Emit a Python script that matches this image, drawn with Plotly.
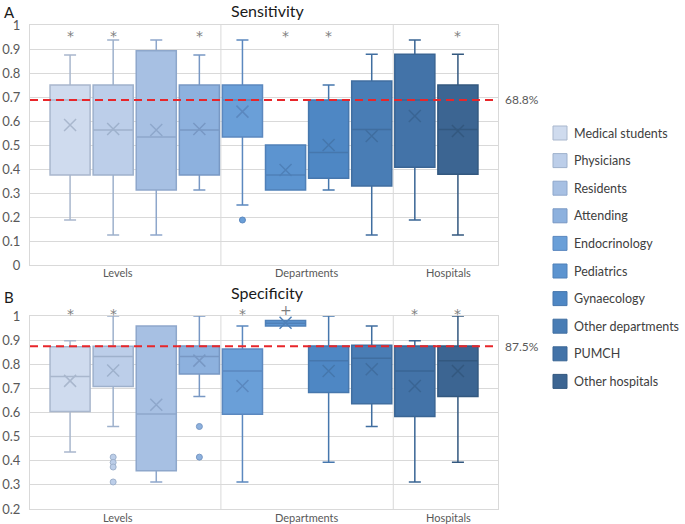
import plotly.graph_objects as go

groups = ["Medical students", "Physicians", "Residents", "Attending", "Endocrinology",
          "Pediatrics", "Gynaecology", "Other departments", "PUMCH", "Other hospitals"]
positions = [0, 1, 2, 3, 4, 5, 6, 7, 8, 9]
fills = ["#cfdbee", "#bccee9", "#a7c0e3", "#8db1de", "#6a9fd8",
         "#5c94d0", "#4e87c4", "#497db5", "#4373a8", "#3c6592"]
lines = ["#a9b7cd", "#9eb1cc", "#8ea7cb", "#7898c4", "#5b88bf",
         "#4f80b8", "#4677ad", "#406ea0", "#3a6594", "#33587f"]

# Sensitivity (A)
sens_lo = [0.1875, 0.125, 0.125, 0.3125, 0.25, 0.3125, 0.3125, 0.125, 0.1875, 0.125]
sens_q1 = [0.375, 0.375, 0.3125, 0.375, 0.533, 0.3125, 0.361, 0.329, 0.407, 0.378]
sens_med = [0.6875, 0.5625, 0.533, 0.5625, 0.6875, 0.375, 0.469, 0.565, 0.6875, 0.565]
sens_q3 = [0.75, 0.75, 0.893, 0.75, 0.75, 0.5, 0.6875, 0.767, 0.878, 0.75]
sens_hi = [0.875, 0.9375, 0.9375, 0.875, 0.9375, 0.5, 0.75, 0.878, 0.9375, 0.878]
sens_mean = [0.583, 0.567, 0.5625, 0.567, 0.639, 0.396, 0.5, 0.5375, 0.621, 0.558]
sens_out_x = [4]
sens_out_y = [0.1875]
sens_marks = ["*", "*", "", "*", "", "*", "*", "", "", "*"]
sens_mark_y = 0.955
sens_range = [0, 1]
sens_ref = 0.688
sens_ref_label = "68.8%"

# Specificity (B)
spec_lo = [0.436, 0.542, 0.312, 0.666, 0.312, 0.959, 0.394, 0.542, 0.312, 0.394]
spec_q1 = [0.604, 0.708, 0.359, 0.76, 0.593, 0.959, 0.683, 0.636, 0.583, 0.666]
spec_med = [0.749, 0.832, 0.594, 0.832, 0.772, 0.97, 0.814, 0.825, 0.772, 0.814]
spec_q3 = [0.873, 0.875, 0.959, 0.876, 0.863, 0.981, 0.876, 0.879, 0.876, 0.876]
spec_hi = [0.897, 1.0, 0.959, 1.0, 0.959, 0.981, 1.0, 0.959, 0.897, 1.0]
spec_mean = [0.731, 0.774, 0.632, 0.815, 0.71, 0.972, 0.772, 0.779, 0.71, 0.772]
spec_out_x = [1, 1, 1, 1, 3, 3]
spec_out_y = [0.415, 0.393, 0.374, 0.312, 0.542, 0.415]
spec_marks = ["*", "*", "", "", "*", "+", "", "", "*", "*"]
spec_mark_y = 1.01
spec_range = [0.2, 1]
spec_ref = 0.875
spec_ref_label = "87.5%"

categories = ["Levels", "Departments", "Hospitals"]
category_x = [1.11, 5.5, 8.77]
separators = [3.5, 7.5]

W, H = 685, 524
ML, MR, MT, MB = 30, 187, 25, 15
PW, PH = W - ML - MR, H - MT - MB
FONT = "Lato, 'Open Sans', sans-serif"
GRAY = "#595959"
GRID = "#d9d9d9"
XR = [-0.93, 9.93]


def px(x):
    return (x - ML) / PW


def py(y):
    return (H - MB - y) / PH


fig = go.Figure()
shapes = []
annotations = []

panels = [
    ("x", "y", sens_lo, sens_q1, sens_med, sens_q3, sens_hi, sens_mean,
     sens_out_x, sens_out_y, sens_marks, sens_mark_y, sens_range, sens_ref, sens_ref_label, 272),
    ("x2", "y2", spec_lo, spec_q1, spec_med, spec_q3, spec_hi, spec_mean,
     spec_out_x, spec_out_y, spec_marks, spec_mark_y, spec_range, spec_ref, spec_ref_label, 517),
]

for (xa, ya, lo, q1, med, q3, hi, mean, ox, oy, marks, my, yr, ref, reflab, caty) in panels:
    for i, g in enumerate(groups):
        fig.add_trace(go.Box(
            x=[positions[i]], lowerfence=[lo[i]], q1=[q1[i]], median=[med[i]],
            q3=[q3[i]], upperfence=[hi[i]], width=0.93, whiskerwidth=0.3,
            fillcolor=fills[i], line=dict(color=lines[i], width=1.5),
            boxpoints=False, name=g, showlegend=False, xaxis=xa, yaxis=ya,
            hoverinfo="skip"))
    fig.add_trace(go.Scatter(
        x=positions, y=mean, mode="markers", xaxis=xa, yaxis=ya, showlegend=False,
        marker=dict(symbol="x-thin", size=12,
                    line=dict(color=[lines[i] for i in range(10)], width=1.5)),
        hoverinfo="skip"))
    if ox:
        fig.add_trace(go.Scatter(
            x=ox, y=oy, mode="markers", xaxis=xa, yaxis=ya, showlegend=False,
            marker=dict(symbol="circle", size=6, color=[fills[k] for k in ox],
                        line=dict(color=[lines[k] for k in ox], width=1)),
            hoverinfo="skip"))
    yd = ya + " domain"
    mark_dom = (my - yr[0]) / (yr[1] - yr[0])
    for i in range(10):
        if marks[i]:
            annotations.append(dict(xref=xa, yref=yd, x=positions[i], y=mark_dom,
                                    text=marks[i], showarrow=False, xanchor="center",
                                    yanchor="middle", yshift=4 if marks[i] == "+" else 0,
                                    font=dict(family="DejaVu Sans", size=14,
                                              color="#7f7f7f")))
    xref = xa
    for s in separators:
        shapes.append(dict(type="line", xref=xref, yref=yd, x0=s, x1=s, y0=0, y1=1,
                           line=dict(color=GRID, width=1), layer="below"))
    shapes.append(dict(type="line", xref=xref, yref=ya, x0=XR[0], x1=XR[1], y0=ref, y1=ref,
                       line=dict(color="#e8262a", width=2, dash="8px,5px")))
    annotations.append(dict(xref=xref, yref=ya, x=XR[1], y=ref, text=reflab,
                            showarrow=False, xanchor="left", xshift=5,
                            font=dict(family=FONT, size=12, color=GRAY)))
    for c, cx in zip(categories, category_x):
        annotations.append(dict(xref=xref, yref="paper", x=cx, y=py(caty), text=c,
                                showarrow=False, yanchor="middle",
                                font=dict(family=FONT, size=11, color=GRAY)))

# titles and panel letters
for txt, x, y, sz in [("Sensitivity", 267, 10, 16), ("Specificity", 267, 293, 16),
                      ("A", 9, 12, 15), ("B", 9, 297, 15)]:
    annotations.append(dict(xref="paper", yref="paper", x=px(x), y=py(y), text=txt,
                            showarrow=False, xanchor="center", yanchor="middle",
                            font=dict(family=FONT, size=sz, color="#1a1a1a")))

# legend
for i, g in enumerate(groups):
    cy = 133 + 27.6 * i
    shapes.append(dict(type="rect", xref="paper", yref="paper",
                       x0=px(553), x1=px(567), y0=py(cy - 7), y1=py(cy + 7),
                       fillcolor=fills[i], line=dict(color=lines[i], width=1)))
    annotations.append(dict(xref="paper", yref="paper", x=px(572), y=py(cy), text=g,
                            showarrow=False, xanchor="left", yanchor="middle",
                            font=dict(family=FONT, size=12.5, color="#404040")))

axis_common = dict(showline=True, mirror=True, linecolor=GRID, linewidth=1,
                   automargin=False)
fig.update_layout(
    width=W, height=H, margin=dict(l=ML, r=MR, t=MT, b=MB, autoexpand=False),
    paper_bgcolor="white", plot_bgcolor="white", showlegend=False,
    shapes=shapes, annotations=annotations,
    xaxis=dict(domain=[0, 1], range=XR, showgrid=False, zeroline=False,
               showticklabels=False, ticks="", anchor="y", **axis_common),
    xaxis2=dict(domain=[0, 1], range=XR, showgrid=False, zeroline=False,
                showticklabels=False, ticks="", anchor="y2", **axis_common),
    yaxis=dict(domain=[py(265), 1], range=sens_range, dtick=0.1, tick0=0,
               gridcolor=GRID, zeroline=False, ticklabelstandoff=6,
               tickfont=dict(family=FONT, size=13, color=GRAY), anchor="x",
               **axis_common),
    yaxis2=dict(domain=[0, py(316)], range=spec_range, dtick=0.1, tick0=0,
                gridcolor=GRID, zeroline=False, ticklabelstandoff=6,
                tickfont=dict(family=FONT, size=13, color=GRAY), anchor="x2",
                **axis_common),
)

fig.write_html("out.html", config={"displayModeBar": False},
               post_script="document.body.style.margin='0';document.body.style.overflow='hidden';")
